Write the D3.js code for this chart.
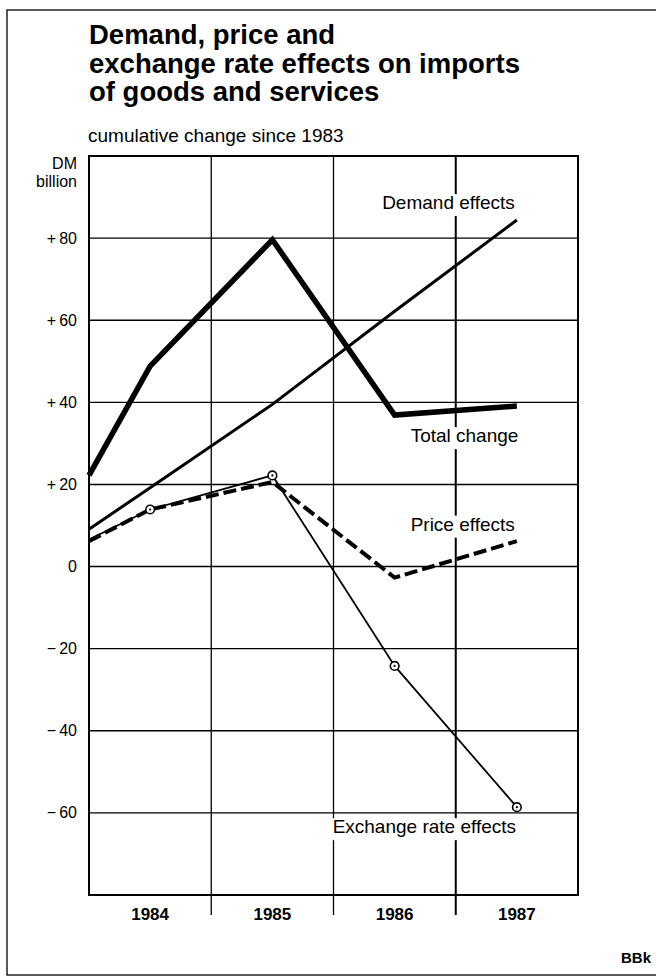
<!DOCTYPE html>
<html>
<head>
<meta charset="utf-8">
<script src="https://cdn.jsdelivr.net/npm/d3@7/dist/d3.min.js"></script>
<style>
  html, body { margin: 0; padding: 0; background: #fff; }
  svg { display: block; font-family: "Liberation Sans", Arial, Helvetica, sans-serif; }
</style>
</head>
<body>
<svg id="chart" width="656" height="976"></svg>
<script>
// ---- data ----
const titleLines = ["Demand, price and", "exchange rate effects on imports", "of goods and services"];
const subtitle = "cumulative change since 1983";
const unitLines = ["DM", "billion"];
const yearLabels = [1984, 1985, 1986, 1987];
const periods = [1983.5, 1984, 1985, 1986, 1987];
const totalChange = [22.2, 48.8, 79.6, 36.9, 39.1];
const demandEffects = [9.1, 19.2, 39.5, 62.2, 84.4];
const priceEffects = [6.2, 13.9, 20.6, -2.7, 6.2];
const exchangeRateEffects = [6.6, 13.9, 22.2, -24.2, -58.6];
const markerPeriods = [1984, 1985, 1986, 1987];
const markerValues = [13.9, 22.2, -24.2, -58.6];
const yTicks = [-60, -40, -20, 0, 20, 40, 60, 80];
const seriesLabels = ["Demand effects", "Total change", "Price effects", "Exchange rate effects"];
const source = "BBk";

// ---- layout ----
const svg = d3.select("#chart");
const x = d3.scaleLinear().domain([1983.5, 1987.5]).range([89, 578]);
const y = d3.scaleLinear().domain([-80, 100]).range([895, 156]);

// outer frame
svg.append("rect").attr("x", 7).attr("y", 10).attr("width", 700).attr("height", 965)
  .attr("fill", "none").attr("stroke", "#000").attr("stroke-width", 1.3);

// title
const title = svg.append("text").attr("font-weight", "bold").attr("font-size", 27.5).attr("fill", "#000");
titleLines.forEach((t, i) => title.append("tspan").attr("x", 89).attr("y", 44 + i * 28.5).text(t));

svg.append("text").attr("x", 88).attr("y", 142).attr("font-size", 19).text(subtitle);

unitLines.forEach((t, i) => svg.append("text").attr("x", 77).attr("y", 169 + i * 18)
  .attr("text-anchor", "end").attr("font-size", 16).text(t));

// grid
const g = svg.append("g");
g.selectAll("line.h").data(yTicks).join("line")
  .attr("x1", x(1983.5)).attr("x2", x(1987.5))
  .attr("y1", d => y(d)).attr("y2", d => y(d))
  .attr("stroke", "#000").attr("stroke-width", 1.4);
const dividers = [1984.5, 1985.5, 1986.5];
g.selectAll("line.v").data(dividers).join("line")
  .attr("x1", d => x(d)).attr("x2", d => x(d))
  .attr("y1", y(100)).attr("y2", y(-80) + 20)
  .attr("stroke", "#000").attr("stroke-width", d => d === 1986.5 ? 2 : 1.3);
g.append("rect").attr("x", x(1983.5)).attr("y", y(100))
  .attr("width", x(1987.5) - x(1983.5)).attr("height", y(-80) - y(100))
  .attr("fill", "none").attr("stroke", "#000").attr("stroke-width", 2);

// y tick labels
const fmt = v => v > 0 ? "+\u2009" + v : v < 0 ? "\u2212\u2009" + Math.abs(v) : "0";
svg.selectAll("text.yt").data(yTicks).join("text")
  .attr("x", 77).attr("y", d => y(d) + 5.5).attr("text-anchor", "end")
  .attr("font-size", 16).text(fmt);

// x labels
svg.selectAll("text.xt").data(yearLabels).join("text")
  .attr("x", d => x(d)).attr("y", 920).attr("text-anchor", "middle")
  .attr("font-size", 17).attr("font-weight", "bold").text(d => d);

// series labels with white background (drawn above the grid)
const labelLayer = svg.append("g");
const labelSpec = [
  {text: seriesLabels[0], px: 1987, py: 84.4, dx: -2, dy: -11, anchor: "end"},
  {text: seriesLabels[1], px: 1986, py: 36.9, dx: 16, dy: 27, anchor: "start"},
  {text: seriesLabels[2], px: 1986, py: -2.7, dx: 16, dy: -47, anchor: "start"},
  {text: seriesLabels[3], px: 1986, py: -58.6, dx: -62, dy: 26, anchor: "start"}
];
labelSpec.forEach(s => {
  const lgp = labelLayer.append("g");
  const t = lgp.append("text").attr("x", x(s.px) + s.dx).attr("y", y(s.py) + s.dy)
    .attr("text-anchor", s.anchor).attr("font-size", 19).text(s.text);
  const b = t.node().getBBox();
  lgp.insert("rect", "text").attr("x", b.x - 3).attr("y", b.y + 2).attr("width", b.width + 6)
    .attr("height", b.height + 1).attr("fill", "#fff");
});

// lines
const line = d3.line().x((d, i) => x(periods[i])).y(d => y(d));
const lg = svg.append("g").attr("fill", "none").attr("stroke", "#000")
  .attr("stroke-linejoin", "miter").attr("stroke-linecap", "butt");
lg.append("path").datum(exchangeRateEffects).attr("d", line).attr("stroke-width", 1.8);
lg.append("path").datum(demandEffects).attr("d", line).attr("stroke-width", 3);
lg.append("path").datum(totalChange).attr("d", line).attr("stroke-width", 5.5);
lg.append("path").datum(priceEffects).attr("d", line).attr("stroke-width", 4)
  .attr("stroke-dasharray", "13,5");

// markers
const mk = svg.append("g");
mk.selectAll("circle.o").data(markerValues).join("circle")
  .attr("cx", (d, i) => x(markerPeriods[i])).attr("cy", d => y(d)).attr("r", 4.3)
  .attr("fill", "#fff").attr("stroke", "#000").attr("stroke-width", 1.6);
mk.selectAll("circle.i").data(markerValues).join("circle")
  .attr("cx", (d, i) => x(markerPeriods[i])).attr("cy", d => y(d)).attr("r", 1.1)
  .attr("fill", "#000");

// source
svg.append("text").attr("x", 651).attr("y", 963).attr("text-anchor", "end")
  .attr("font-size", 15).attr("font-weight", "bold").text(source);
</script>
</body>
</html>
